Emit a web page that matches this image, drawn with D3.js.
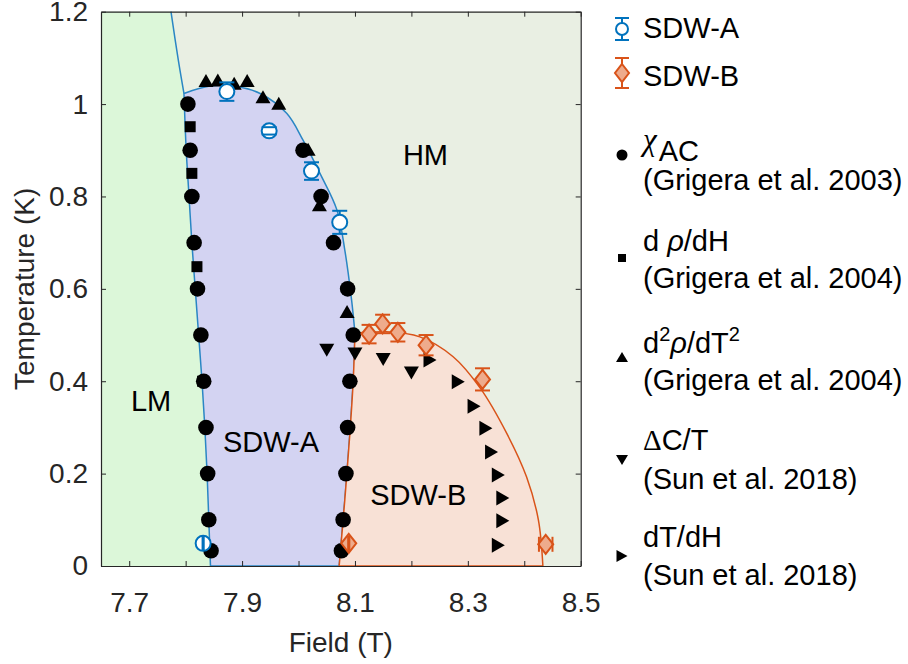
<!DOCTYPE html>
<html>
<head>
<meta charset="utf-8">
<script src="https://cdn.jsdelivr.net/npm/d3@7"></script>
<style>
  body { margin: 0; background: #fff; }
  svg { display: block; font-family: Arial, "Liberation Sans", Helvetica, sans-serif; }
</style>
</head>
<body>
<svg id="chart" width="908" height="664"></svg>
<script>
// ---------------- axis ticks ----------------
const xTickValues = [7.7, 7.8, 7.9, 8.0, 8.1, 8.2, 8.3, 8.4, 8.5];
const xTickLabels = ["7.7", "", "7.9", "", "8.1", "", "8.3", "", "8.5"];
const yTickValues = [0, 0.2, 0.4, 0.6, 0.8, 1, 1.2];
const yTickLabels = ["0", "0.2", "0.4", "0.6", "0.8", "1", "1.2"];

// ---------------- phase boundaries [field (T), temperature (K)] ----------------
const lmCrossover = [[7.774, 1.2], [7.787, 1.095], [7.797, 1.023]];
const sdwALeft = [[7.797, 1.023], [7.801, 0.9], [7.806, 0.8], [7.811, 0.7], [7.817, 0.6],
                  [7.823, 0.5], [7.829, 0.4], [7.834, 0.3], [7.838, 0.2], [7.841, 0.1], [7.844, 0]];
const sdwADome = [[7.797, 1.023], [7.843, 1.039], [7.890, 1.038], [7.932, 1.023], [7.979, 0.980],
                  [8.008, 0.922], [8.038, 0.850], [8.068, 0.771], [8.082, 0.684], [8.094, 0.576],
                  [8.100, 0.504]];
const sdwABBoundary = [[8.100, 0.504], [8.097, 0.403], [8.091, 0.287], [8.082, 0.143], [8.072, 0]];
const sdwBDome = [[8.100, 0.504], [8.156, 0.507], [8.215, 0.496], [8.274, 0.453], [8.322, 0.385],
                  [8.369, 0.287], [8.404, 0.193], [8.425, 0.100], [8.433, 0]];

// ---------------- SDW-A (neutron) ----------------
const sdwAField = [7.873, 7.948, 8.023, 8.073, 7.831];
const sdwATemp = [1.027, 0.942, 0.855, 0.744, 0.049];
const sdwATempErr = [0.02, 0.008, 0.019, 0.025, 0];
const sdwAFieldErr = [0, 0, 0, 0, 0.001];

// ---------------- SDW-B (neutron) ----------------
const sdwBField = [8.125, 8.149, 8.176, 8.226, 8.326, 8.089, 8.438];
const sdwBTemp = [0.502, 0.524, 0.506, 0.478, 0.404, 0.049, 0.047];
const sdwBTempErr = [0.02, 0.02, 0.02, 0.022, 0.024, 0, 0];
const sdwBFieldErr = [0, 0, 0, 0, 0, 0.001, 0.012];

// ---------------- chi_AC (Grigera et al. 2003) ----------------
const chiField = [7.804, 7.808, 7.811, 7.815, 7.821, 7.827, 7.832, 7.836, 7.839, 7.841, 7.845,
                  8.008, 8.040, 8.062, 8.087, 8.097, 8.091, 8.087, 8.084, 8.079, 8.076];
const chiTemp = [1.00, 0.90, 0.80, 0.70, 0.60, 0.50, 0.40, 0.30, 0.20, 0.10, 0.033,
                 0.90, 0.80, 0.70, 0.60, 0.50, 0.40, 0.30, 0.20, 0.10, 0.033];

// ---------------- drho/dH (Grigera et al. 2004) ----------------
const drhoField = [7.808, 7.811, 7.820, 7.830];
const drhoTemp = [0.951, 0.850, 0.648, 0.40];

// ---------------- d2rho/dT2 (Grigera et al. 2004) ----------------
const d2rhoField = [7.836, 7.857, 7.886, 7.909, 7.937, 7.965, 8.017, 8.037, 8.086];
const d2rhoTemp = [1.051, 1.052, 1.045, 1.051, 1.016, 1.002, 0.902, 0.782, 0.551];

// ---------------- Delta C/T (Sun et al. 2018) ----------------
const dcField = [8.050, 8.100, 8.150, 8.200];
const dcTemp = [0.467, 0.459, 0.447, 0.418];

// ---------------- dT/dH (Sun et al. 2018) ----------------
const dtField = [8.233, 8.283, 8.311, 8.332, 8.342, 8.354, 8.362, 8.362, 8.354];
const dtTemp = [0.446, 0.399, 0.346, 0.298, 0.247, 0.197, 0.147, 0.098, 0.045];

// ---------------- colours ----------------
const colLM = "#dcf7d9", colHM = "#e9efe3", colA = "#d3d3f2", colB = "#f8e1d6";
const blue = "#0072bd", blueLine = "#2a86c4", orange = "#d95319", orangeFill = "#eeab8c";
const axisCol = "#262626";

// ---------------- layout ----------------
const svg = d3.select("#chart");
const x = d3.scaleLinear().domain([7.65, 8.5]).range([101, 580.7]);
const y = d3.scaleLinear().domain([0, 1.2]).range([566, 11.7]);
const FS = 28, LFS = 29;

const line = d3.line().x(d => x(d[0])).y(d => y(d[1])).curve(d3.curveCatmullRom.alpha(0.5));
const seg = (pts, join) => { const p = line(pts); return join ? p.replace(/^M/, "L") : p; };
const rev = a => a.slice().reverse();
const pt = (f, t) => x(f) + "," + y(t);

const plot = svg.append("g");

// background (HM)
plot.append("rect").attr("x", x(7.65)).attr("y", y(1.2))
  .attr("width", x(8.5) - x(7.65)).attr("height", y(0) - y(1.2)).attr("fill", colHM);

// LM region
plot.append("path").attr("fill", colLM)
  .attr("d", "M" + pt(7.65, 1.2) + seg(lmCrossover, true) + seg(sdwALeft, true) + "L" + pt(7.65, 0) + "Z");

// SDW-A region
plot.append("path").attr("fill", colA).attr("stroke", blueLine).attr("stroke-width", 1.5)
  .attr("d", seg(sdwALeft) + seg(rev(sdwABBoundary), true) + seg(rev(sdwADome), true) + "Z");

// SDW-B region
plot.append("path").attr("fill", colB).attr("stroke", orange).attr("stroke-width", 1.5)
  .attr("d", seg(sdwABBoundary) + "L" + pt(sdwBDome[sdwBDome.length - 1][0], 0) +
             seg(rev(sdwBDome), true) + "Z");

// crossover line above the SDW-A dome
plot.append("path").attr("fill", "none").attr("stroke", blueLine).attr("stroke-width", 1.5)
  .attr("d", seg(lmCrossover));

// region names
const regionText = [["HM", 8.185, 0.868], ["LM", 7.703, 0.336], ["SDW-A", 7.866, 0.247], ["SDW-B", 8.127, 0.132]];
plot.selectAll("text.region").data(regionText).join("text").attr("class", "region")
  .attr("x", d => x(d[1])).attr("y", d => y(d[2]))
  .attr("font-size", LFS).attr("fill", "#000").text(d => d[0]);

// ---------------- marker shapes ----------------
const tri = (dir, w, h) => {
  if (dir === "up") return `M0,${-h / 2}L${w / 2},${h / 2}L${-w / 2},${h / 2}Z`;
  if (dir === "down") return `M0,${h / 2}L${w / 2},${-h / 2}L${-w / 2},${-h / 2}Z`;
  return `M${w / 2},0L${-w / 2},${-h / 2}L${-w / 2},${h / 2}Z`;
};
const diamond = (w, h) => `M0,${-h / 2}L${w / 2},0L0,${h / 2}L${-w / 2},0Z`;

function blackMarkers(fx, ty, draw) {
  const g = plot.append("g");
  fx.forEach((f, i) => draw(g, x(f), y(ty[i])));
}

blackMarkers(chiField, chiTemp, (g, cx, cy) =>
  g.append("circle").attr("cx", cx).attr("cy", cy).attr("r", 7.8).attr("fill", "#000"));
blackMarkers(drhoField, drhoTemp, (g, cx, cy) =>
  g.append("rect").attr("x", cx - 5.5).attr("y", cy - 5.5).attr("width", 11).attr("height", 11).attr("fill", "#000"));
blackMarkers(d2rhoField, d2rhoTemp, (g, cx, cy) =>
  g.append("path").attr("transform", `translate(${cx},${cy})`).attr("d", tri("up", 15, 13)).attr("fill", "#000"));
blackMarkers(dcField, dcTemp, (g, cx, cy) =>
  g.append("path").attr("transform", `translate(${cx},${cy})`).attr("d", tri("down", 15, 13)).attr("fill", "#000"));
blackMarkers(dtField, dtTemp, (g, cx, cy) =>
  g.append("path").attr("transform", `translate(${cx},${cy})`).attr("d", tri("right", 13, 15)).attr("fill", "#000"));

// markers with error bars: bars outside the marker, caps always visible
function errMarker(g, cx, cy, shape, color, fill, halfW, halfH, eyPx, exPx, cap) {
  if (shape === "circle") {
    g.append("circle").attr("cx", cx).attr("cy", cy).attr("r", halfW)
      .attr("fill", fill).attr("stroke", color).attr("stroke-width", 2);
  } else {
    g.append("path").attr("transform", `translate(${cx},${cy})`).attr("d", diamond(halfW * 2, halfH * 2))
      .attr("fill", fill).attr("stroke", color).attr("stroke-width", 2);
  }
  const s = (x1, y1, x2, y2) => g.append("line").attr("x1", x1).attr("y1", y1).attr("x2", x2).attr("y2", y2)
    .attr("stroke", color).attr("stroke-width", 2);
  if (eyPx > 0) {
    if (eyPx > halfH) { s(cx, cy - halfH, cx, cy - eyPx); s(cx, cy + halfH, cx, cy + eyPx); }
    s(cx - cap, cy - eyPx, cx + cap, cy - eyPx);
    s(cx - cap, cy + eyPx, cx + cap, cy + eyPx);
  }
  if (exPx > 0) {
    if (exPx > halfW) { s(cx - halfW, cy, cx - exPx, cy); s(cx + halfW, cy, cx + exPx, cy); }
    s(cx - exPx, cy - cap, cx - exPx, cy + cap);
    s(cx + exPx, cy - cap, cx + exPx, cy + cap);
  }
}

const gA = plot.append("g");
sdwAField.forEach((f, i) => {
  const cx = x(f), cy = y(sdwATemp[i]);
  errMarker(gA, cx, cy, "circle", blue, "#fff", 7.5, 7.5,
    sdwATempErr[i] ? cy - y(sdwATemp[i] + sdwATempErr[i]) : 0,
    sdwAFieldErr[i] ? x(f + sdwAFieldErr[i]) - cx : 0, 7.5);
});
const gB = plot.append("g");
sdwBField.forEach((f, i) => {
  const cx = x(f), cy = y(sdwBTemp[i]);
  errMarker(gB, cx, cy, "diamond", orange, orangeFill, 7.5, 9.5,
    sdwBTempErr[i] ? cy - y(sdwBTemp[i] + sdwBTempErr[i]) : 0,
    sdwBFieldErr[i] ? x(f + sdwBFieldErr[i]) - cx : 0, 7.5);
});

// ---------------- axes ----------------
const axes = svg.append("g").attr("font-family", "Arial, 'Liberation Sans', sans-serif");
const styleAxis = g => {
  g.select(".domain").attr("stroke", axisCol).attr("stroke-width", 1.2);
  g.selectAll(".tick line").attr("stroke", axisCol).attr("stroke-width", 1);
  g.selectAll(".tick text").attr("fill", axisCol).attr("font-size", FS).attr("font-family", null);
};
axes.append("g").attr("transform", `translate(0,${y(0)})`)
  .call(d3.axisBottom(x).tickValues(xTickValues).tickFormat((d, i) => xTickLabels[i])
    .tickSize(-5).tickSizeOuter(0).tickPadding(26)).call(styleAxis);
axes.append("g").attr("transform", `translate(0,${y(1.2)})`)
  .call(d3.axisTop(x).tickValues(xTickValues).tickFormat("").tickSize(-5).tickSizeOuter(0)).call(styleAxis);
axes.append("g").attr("transform", `translate(${x(7.65)},0)`)
  .call(d3.axisLeft(y).tickValues(yTickValues).tickFormat((d, i) => yTickLabels[i])
    .tickSize(-5).tickSizeOuter(0).tickPadding(13)).call(styleAxis);
axes.append("g").attr("transform", `translate(${x(8.5)},0)`)
  .call(d3.axisRight(y).tickValues(yTickValues).tickFormat("").tickSize(-5).tickSizeOuter(0)).call(styleAxis);

svg.append("text").attr("x", (x(7.65) + x(8.5)) / 2).attr("y", 652).attr("text-anchor", "middle")
  .attr("font-size", FS).attr("fill", axisCol).text("Field (T)");
svg.append("text").attr("transform", `translate(34,${(y(0) + y(1.2)) / 2}) rotate(-90)`)
  .attr("text-anchor", "middle").attr("font-size", FS).attr("fill", axisCol).text("Temperature (K)");

// ---------------- legend ----------------
const leg = svg.append("g").attr("font-size", LFS);
const lx = 622, tx = 643;

errMarker(leg, lx, 29, "circle", blue, "#fff", 6, 6, 11, 0, 7);
leg.append("text").attr("x", tx).attr("y", 38).text("SDW-A");
errMarker(leg, lx, 73, "diamond", orange, orangeFill, 7, 9, 15, 0, 7);
leg.append("text").attr("x", tx).attr("y", 86).text("SDW-B");

// chi_AC
leg.append("circle").attr("cx", lx).attr("cy", 155).attr("r", 5.5).attr("fill", "#000");
const t1 = leg.append("text").attr("x", tx).attr("y", 150);
t1.append("tspan").attr("font-family", "'Liberation Serif', 'DejaVu Serif', serif").attr("font-style", "italic")
  .attr("font-size", 31).text("χ");
t1.append("tspan").attr("dy", 11).attr("dx", 2).text("AC");
leg.append("text").attr("x", tx).attr("y", 190).text("(Grigera et al. 2003)");

// drho/dH
leg.append("rect").attr("x", lx - 4).attr("y", 254).attr("width", 8).attr("height", 8).attr("fill", "#000");
const t2 = leg.append("text").attr("x", tx).attr("y", 251);
t2.append("tspan").text("d ");
t2.append("tspan").attr("font-style", "italic").text("ρ");
t2.append("tspan").text("/dH");
leg.append("text").attr("x", tx).attr("y", 288).text("(Grigera et al. 2004)");

// d2rho/dT2
leg.append("path").attr("transform", `translate(${lx},357)`).attr("d", tri("up", 12, 10)).attr("fill", "#000");
const t3 = leg.append("text").attr("x", tx).attr("y", 353);
t3.append("tspan").text("d");
t3.append("tspan").attr("dy", -12).attr("font-size", 20).text("2");
t3.append("tspan").attr("dy", 12).attr("font-style", "italic").text("ρ");
t3.append("tspan").text("/dT");
t3.append("tspan").attr("dy", -12).attr("font-size", 20).text("2");
leg.append("text").attr("x", tx).attr("y", 390).text("(Grigera et al. 2004)");

// Delta C/T
leg.append("path").attr("transform", `translate(${lx},460)`).attr("d", tri("down", 12, 10)).attr("fill", "#000");
const t4 = leg.append("text").attr("x", tx).attr("y", 450);
t4.append("tspan").attr("font-family", "'Liberation Serif', 'DejaVu Serif', serif").text("Δ");
t4.append("tspan").text("C/T");
leg.append("text").attr("x", tx).attr("y", 489).text("(Sun et al. 2018)");

// dT/dH
leg.append("path").attr("transform", `translate(${lx},556)`).attr("d", tri("right", 11, 12)).attr("fill", "#000");
leg.append("text").attr("x", tx).attr("y", 547).text("dT/dH");
leg.append("text").attr("x", tx).attr("y", 585).text("(Sun et al. 2018)");
</script>
</body>
</html>
